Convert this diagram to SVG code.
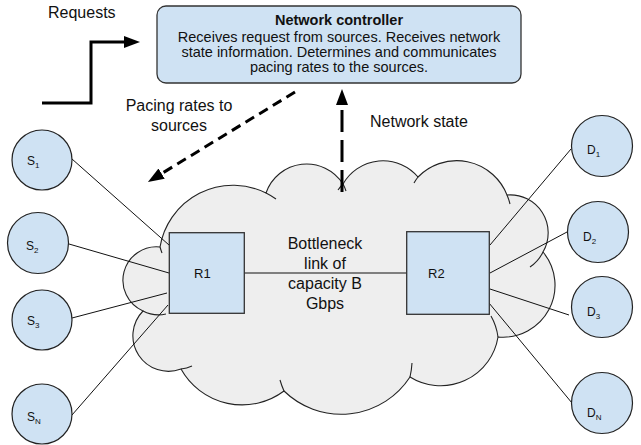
<svg xmlns="http://www.w3.org/2000/svg" width="641" height="445" viewBox="0 0 641 445">
  <style>
    text { font-family: "Liberation Sans", Arial, sans-serif; fill: #111; }
    .lbl { font-size: 16px; }
    .ctl { font-size: 14.5px; text-anchor: middle; }
    .ctl-title { font-weight: bold; }
    .node-lbl { font-size: 12px; }
    .sub { font-size: 8px; }
    .router-lbl { font-size: 13px; }
    .host { fill: #cfe2f3; stroke: #222; stroke-width: 1.2; }
    .router { fill: #cfe2f3; stroke: #333; stroke-width: 1.3; }
    .link { stroke: #111; stroke-width: 1; fill: none; }
    .cloud { fill: #eeeeee; stroke: #222; stroke-width: 1.1; }
    .cloud-hook { fill: none; stroke: #222; stroke-width: 1.1; }
    .bold-arrow { stroke: #000; stroke-width: 3; fill: none; }
  </style>
  <defs>
    <marker id="head" markerUnits="userSpaceOnUse" markerWidth="17" markerHeight="13" refX="0" refY="6" orient="auto">
      <path d="M0,0 L16,6 L0,12 Z" fill="#000"/>
    </marker>
  </defs>

  <!-- cloud of the network core -->
  <g id="network-cloud">
    <path class="cloud" d="M160,247 A74 74 0 0 1 266,193 A43 43 0 0 1 343,184 A46 46 0 0 1 418,177 A54 54 0 0 1 507,195 A38 38 0 0 1 543,252 A52 52 0 0 1 498,337 A58 58 0 0 1 410,377 A82 82 0 0 1 284,391 A70 70 0 0 1 181,369 A35.5 35.5 0 0 1 143,311 A33.5 33.5 0 0 1 160,247 Z"/>
    <path class="cloud-hook" d="M162,253 A74 74 0 0 1 160,247 M266,193 A74 74 0 0 1 276,199 M343,184 A43 43 0 0 1 346,191 M338,190 A46 46 0 0 1 343,184 M414,183 A54 54 0 0 1 418,177 M507,195 A54 54 0 0 1 510,204 M543,252 A38 38 0 0 1 530,267 M491,316 A58 58 0 0 1 498,337 M412,363 A82 82 0 0 1 410,377 M284,391 A82 82 0 0 1 280,380 M192,366 A35.5 35.5 0 0 1 181,369 M166,314 A33.5 33.5 0 0 1 143,311"/>
  </g>

  <!-- connectors -->
  <g id="connectors">
    <line class="link" x1="72" y1="159" x2="169" y2="245"/>
    <line class="link" x1="69" y1="244" x2="169" y2="273"/>
    <line class="link" x1="72" y1="318" x2="167" y2="293"/>
    <line class="link" x1="72" y1="415" x2="168" y2="305"/>
    <line class="link" x1="244" y1="273" x2="407" y2="273"/>
    <line class="link" x1="490" y1="245" x2="571" y2="149"/>
    <line class="link" x1="490" y1="273" x2="567" y2="232"/>
    <line class="link" x1="490" y1="289" x2="569" y2="315"/>
    <line class="link" x1="489" y1="303" x2="572" y2="403"/>
    <polyline class="bold-arrow" points="42,103 91,103 91,42 124,42" marker-end="url(#head)"/>
    <line class="bold-arrow" x1="295" y1="92" x2="161.6" y2="173.6" stroke-dasharray="10,6" marker-end="url(#head)"/>
    <line class="bold-arrow" x1="342" y1="192" x2="342" y2="105" stroke-dasharray="22,8" marker-end="url(#head)"/>
  </g>

  <!-- free labels -->
  <text class="lbl" x="48" y="18">Requests</text>
  <text class="lbl" x="179" y="111" text-anchor="middle">Pacing rates to</text>
  <text class="lbl" x="179" y="131" text-anchor="middle">sources</text>
  <text class="lbl" x="370" y="127">Network state</text>
  <g id="link-label">
    <text class="lbl" x="325" y="249" text-anchor="middle">Bottleneck</text>
    <text class="lbl" x="325" y="269" text-anchor="middle">link of</text>
    <text class="lbl" x="325" y="289" text-anchor="middle">capacity B</text>
    <text class="lbl" x="325" y="309" text-anchor="middle">Gbps</text>
  </g>

  <!-- controller -->
  <g id="controller">
    <rect x="157" y="6" width="364" height="77" rx="9" fill="#cfe2f3" stroke="#333" stroke-width="1.3"/>
    <text class="ctl ctl-title" x="339" y="25">Network controller</text>
    <text class="ctl" x="339" y="41.5">Receives request from sources. Receives network</text>
    <text class="ctl" x="339" y="57">state information. Determines and communicates</text>
    <text class="ctl" x="339" y="72">pacing rates to the sources.</text>
  </g>

  <!-- routers -->
  <g id="R1">
    <rect class="router" x="169.3" y="232.7" width="75" height="80.6"/>
    <text class="router-lbl" x="194" y="278">R1</text>
  </g>
  <g id="R2">
    <rect class="router" x="406.7" y="231.7" width="82.6" height="82.6"/>
    <text class="router-lbl" x="428" y="278">R2</text>
  </g>

  <!-- sources -->
  <g id="S1">
    <circle class="host" cx="42" cy="160" r="30"/>
    <text class="node-lbl" x="27" y="165">S<tspan class="sub" dy="3">1</tspan></text>
  </g>
  <g id="S2">
    <circle class="host" cx="38" cy="243" r="30.5"/>
    <text class="node-lbl" x="26" y="250">S<tspan class="sub" dy="3">2</tspan></text>
  </g>
  <g id="S3">
    <circle class="host" cx="42" cy="320" r="30"/>
    <text class="node-lbl" x="27" y="325">S<tspan class="sub" dy="3">3</tspan></text>
  </g>
  <g id="SN">
    <circle class="host" cx="42" cy="414" r="30"/>
    <text class="node-lbl" x="27" y="421">S<tspan class="sub" dy="3">N</tspan></text>
  </g>

  <!-- destinations -->
  <g id="D1">
    <circle class="host" cx="602" cy="146" r="30.5"/>
    <text class="node-lbl" x="587" y="154">D<tspan class="sub" dy="3">1</tspan></text>
  </g>
  <g id="D2">
    <circle class="host" cx="598" cy="232" r="30.5"/>
    <text class="node-lbl" x="583" y="241">D<tspan class="sub" dy="3">2</tspan></text>
  </g>
  <g id="D3">
    <circle class="host" cx="602" cy="307" r="30.5"/>
    <text class="node-lbl" x="587" y="316">D<tspan class="sub" dy="3">3</tspan></text>
  </g>
  <g id="DN">
    <circle class="host" cx="602" cy="403" r="30.5"/>
    <text class="node-lbl" x="587" y="417">D<tspan class="sub" dy="3">N</tspan></text>
  </g>
</svg>
